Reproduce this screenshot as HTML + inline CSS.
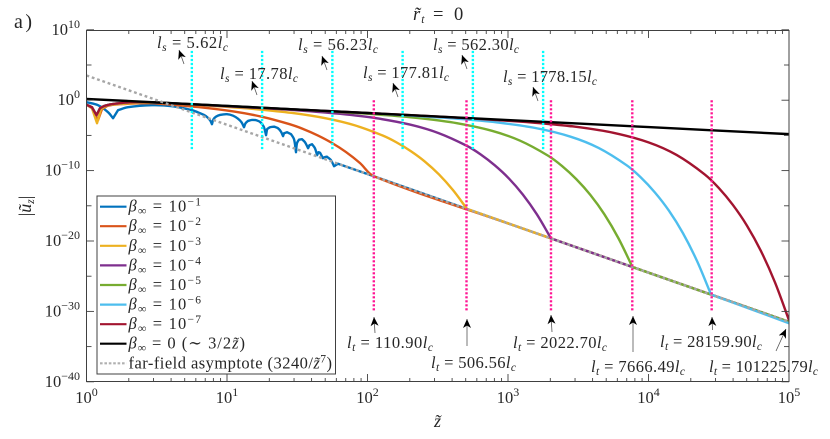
<!DOCTYPE html>
<html lang="en">
<head>
<meta charset="utf-8">
<title>Chart</title>
<style>
html,body{margin:0;padding:0;background:#fff;}
svg{display:block;}
text{font-family:"Liberation Serif","DejaVu Serif",serif;fill:#262626;}
.i{font-style:italic;}
.ann{font-size:16.5px;}
.leg{font-size:16.5px;}
.sub{font-size:11.5px;font-style:italic;}
.sup{font-size:11.5px;}
</style>
</head>
<body>
<svg id="chart" xmlns="http://www.w3.org/2000/svg" width="830" height="439" viewBox="0 0 830 439">
<defs>
<clipPath id="plot-clip"><rect x="86.5" y="30.5" width="702.5" height="351"/></clipPath>
<marker id="head" markerUnits="userSpaceOnUse" markerWidth="12" markerHeight="10" refX="10" refY="4" orient="auto">
<path d="M10,4 L1,0 L3.5,4 L1,8 Z" fill="#000"/>
</marker>
</defs>
<rect x="0" y="0" width="830" height="439" fill="#fff"/>
<g id="curves" clip-path="url(#plot-clip)" fill="none"></g>
<g id="guides" clip-path="url(#plot-clip)" fill="none"></g>
<g id="axes"></g>

<text x="14" y="28" font-size="20" textLength="18">a)</text>
<text x="413" y="20" font-size="18.5"><tspan class="i">r̃</tspan><tspan class="sub" dy="3" dx="1">t</tspan><tspan x="433" dy="-3">=</tspan><tspan x="454">0</tspan></text>
<text transform="rotate(-90 31 206)" x="31" y="206" font-size="18" text-anchor="middle">|<tspan class="i">ũ</tspan><tspan class="sub" dy="3">z</tspan><tspan dy="-3">|</tspan></text>
<text x="434" y="427" font-size="18" class="i">z̃</text>

<g>
<text class="ann" x="157" y="48" textLength="71"><tspan class="i">l</tspan><tspan class="sub" dy="3">s</tspan><tspan dy="-3"> = 5.62</tspan><tspan class="i">l</tspan><tspan class="sub" dy="3">c</tspan></text>
<text class="ann" x="220" y="79" textLength="78"><tspan class="i">l</tspan><tspan class="sub" dy="3">s</tspan><tspan dy="-3"> = 17.78</tspan><tspan class="i">l</tspan><tspan class="sub" dy="3">c</tspan></text>
<text class="ann" x="298" y="50" textLength="80"><tspan class="i">l</tspan><tspan class="sub" dy="3">s</tspan><tspan dy="-3"> = 56.23</tspan><tspan class="i">l</tspan><tspan class="sub" dy="3">c</tspan></text>
<text class="ann" x="363" y="78" textLength="86"><tspan class="i">l</tspan><tspan class="sub" dy="3">s</tspan><tspan dy="-3"> = 177.81</tspan><tspan class="i">l</tspan><tspan class="sub" dy="3">c</tspan></text>
<text class="ann" x="433" y="50" textLength="86"><tspan class="i">l</tspan><tspan class="sub" dy="3">s</tspan><tspan dy="-3"> = 562.30</tspan><tspan class="i">l</tspan><tspan class="sub" dy="3">c</tspan></text>
<text class="ann" x="503" y="82" textLength="94"><tspan class="i">l</tspan><tspan class="sub" dy="3">s</tspan><tspan dy="-3"> = 1778.15</tspan><tspan class="i">l</tspan><tspan class="sub" dy="3">c</tspan></text>
<g stroke="#555" stroke-width="0.8" marker-end="url(#head)">
<line x1="184" y1="64" x2="179" y2="50"/>
<line x1="257" y1="95" x2="252" y2="81"/>
<line x1="327" y1="70" x2="322" y2="56"/>
<line x1="398" y1="97" x2="393" y2="83"/>
<line x1="467" y1="69" x2="462" y2="55"/>
<line x1="538" y1="101" x2="533" y2="87"/>
</g>
</g>

<g>
<text class="ann" x="347" y="348" textLength="86"><tspan class="i">l</tspan><tspan class="sub" dy="3">t</tspan><tspan dy="-3"> = 110.90</tspan><tspan class="i">l</tspan><tspan class="sub" dy="3">c</tspan></text>
<text class="ann" x="431" y="368" textLength="85"><tspan class="i">l</tspan><tspan class="sub" dy="3">t</tspan><tspan dy="-3"> = 506.56</tspan><tspan class="i">l</tspan><tspan class="sub" dy="3">c</tspan></text>
<text class="ann" x="513" y="348" textLength="94"><tspan class="i">l</tspan><tspan class="sub" dy="3">t</tspan><tspan dy="-3"> = 2022.70</tspan><tspan class="i">l</tspan><tspan class="sub" dy="3">c</tspan></text>
<text class="ann" x="591" y="372" textLength="94"><tspan class="i">l</tspan><tspan class="sub" dy="3">t</tspan><tspan dy="-3"> = 7666.49</tspan><tspan class="i">l</tspan><tspan class="sub" dy="3">c</tspan></text>
<text class="ann" x="660" y="347" textLength="102"><tspan class="i">l</tspan><tspan class="sub" dy="3">t</tspan><tspan dy="-3"> = 28159.90</tspan><tspan class="i">l</tspan><tspan class="sub" dy="3">c</tspan></text>
<text class="ann" x="709" y="372" textLength="109"><tspan class="i">l</tspan><tspan class="sub" dy="3">t</tspan><tspan dy="-3"> = 101225.79</tspan><tspan class="i">l</tspan><tspan class="sub" dy="3">c</tspan></text>
<g stroke="#555" stroke-width="0.8" marker-end="url(#head)">
<line x1="375" y1="333" x2="374" y2="317"/>
<line x1="467" y1="346" x2="467" y2="319"/>
<line x1="552" y1="332" x2="551" y2="315"/>
<line x1="633" y1="352" x2="633" y2="316"/>
<line x1="712.5" y1="330" x2="712" y2="317"/>
<line x1="776" y1="351" x2="786" y2="329"/>
</g>
</g>

<g>
<rect x="97" y="196" width="238.5" height="178" fill="#fff" stroke="#404040" stroke-width="1"/>
<g stroke-width="2.2">
<line x1="100" x2="126.5" y1="206.7" y2="206.7" stroke="#0072BD"/>
<line x1="100" x2="126.5" y1="226.2" y2="226.2" stroke="#D95319"/>
<line x1="100" x2="126.5" y1="245.8" y2="245.8" stroke="#EDB120"/>
<line x1="100" x2="126.5" y1="265.4" y2="265.4" stroke="#7E2F8E"/>
<line x1="100" x2="126.5" y1="285" y2="285" stroke="#77AC30"/>
<line x1="100" x2="126.5" y1="304.6" y2="304.6" stroke="#4DBEEE"/>
<line x1="100" x2="126.5" y1="324.2" y2="324.2" stroke="#A2142F"/>
<line x1="100" x2="126.5" y1="343.7" y2="343.7" stroke="#000"/>
<line x1="100" x2="126.5" y1="363.3" y2="363.3" stroke="#b0b0b0" stroke-dasharray="2.6 1.8"/>
</g>
<text class="leg" x="128.5" y="211.7" textLength="72.5"><tspan class="i">β</tspan><tspan class="sub" dy="3">∞</tspan><tspan dy="-3"> = 10</tspan><tspan class="sup" dy="-6">−1</tspan></text>
<text class="leg" x="128.5" y="231.2" textLength="72.5"><tspan class="i">β</tspan><tspan class="sub" dy="3">∞</tspan><tspan dy="-3"> = 10</tspan><tspan class="sup" dy="-6">−2</tspan></text>
<text class="leg" x="128.5" y="250.8" textLength="72.5"><tspan class="i">β</tspan><tspan class="sub" dy="3">∞</tspan><tspan dy="-3"> = 10</tspan><tspan class="sup" dy="-6">−3</tspan></text>
<text class="leg" x="128.5" y="270.4" textLength="72.5"><tspan class="i">β</tspan><tspan class="sub" dy="3">∞</tspan><tspan dy="-3"> = 10</tspan><tspan class="sup" dy="-6">−4</tspan></text>
<text class="leg" x="128.5" y="290" textLength="72.5"><tspan class="i">β</tspan><tspan class="sub" dy="3">∞</tspan><tspan dy="-3"> = 10</tspan><tspan class="sup" dy="-6">−5</tspan></text>
<text class="leg" x="128.5" y="309.6" textLength="72.5"><tspan class="i">β</tspan><tspan class="sub" dy="3">∞</tspan><tspan dy="-3"> = 10</tspan><tspan class="sup" dy="-6">−6</tspan></text>
<text class="leg" x="128.5" y="329.2" textLength="72.5"><tspan class="i">β</tspan><tspan class="sub" dy="3">∞</tspan><tspan dy="-3"> = 10</tspan><tspan class="sup" dy="-6">−7</tspan></text>
<text class="leg" x="128.5" y="348.7" textLength="116.5"><tspan class="i">β</tspan><tspan class="sub" dy="3">∞</tspan><tspan dy="-3"> = 0 (∼ 3/2</tspan><tspan class="i">z̃</tspan>)</text>
<text class="leg" x="128.5" y="368.3" textLength="203.5">far-field asymptote (3240/<tspan class="i">z̃</tspan><tspan class="sup" dy="-6">7</tspan><tspan dy="6">)</tspan></text>
</g>

<script>
// Tick labels (decade exponents)
const xTickExponents = [0, 1, 2, 3, 4, 5];
const yTickExponents = [10, 0, -10, -20, -30, -40];
const yMinorExponents = [5, -5, -15, -25, -35];
const xMinorFactors = [2, 3, 4, 5, 6, 7, 8, 9];

// Length scales marked by dotted guides
const shearLengths = [5.62, 17.78, 56.23, 177.81, 562.30, 1778.15];
const transitionLengths = [110.90, 506.56, 2022.70, 7666.49, 28159.90, 101225.79];

// Shared near-field samples (log10 z, log10 |u|)
const nearLogZ = [0, 0.039, 0.071, 0.096, 0.132, 0.203, 0.31, 0.523];
const nearLogU = [-0.64, -1.0, -2.13, -1.14, -0.78, -0.5, -0.3, -0.36];

// Series (log10 z, log10 |u|)
const beta1LogZ = [0, 0.082, 0.153, 0.189, 0.224, 0.295, 0.466, 0.609, 0.751, 0.808, 0.851, 0.879, 0.893, 0.904, 0.922, 0.95, 1.0, 1.043, 1.078, 1.103, 1.121, 1.132, 1.149, 1.178, 1.214, 1.242, 1.263, 1.278, 1.285, 1.306, 1.335, 1.363, 1.384, 1.399, 1.406, 1.427, 1.456, 1.477, 1.491, 1.498, 1.512, 1.534, 1.555, 1.577, 1.587, 1.605, 1.626, 1.641, 1.651, 1.662, 1.683, 1.694, 1.712, 1.74, 1.762, 1.79, 3, 5];
const beta1LogU = [-0.28, -0.71, -1.7, -2.56, -1.42, -0.99, -0.71, -0.85, -1.42, -1.85, -2.27, -2.84, -3.41, -2.7, -2.34, -2.1, -1.99, -2.2, -2.63, -3.13, -3.84, -3.27, -2.95, -2.81, -2.88, -3.2, -3.84, -4.97, -4.12, -3.84, -3.76, -3.98, -4.47, -5.11, -4.69, -4.55, -4.83, -5.54, -7.39, -6.11, -5.61, -5.54, -5.97, -6.82, -6.39, -6.25, -6.82, -7.81, -7.39, -7.46, -8.24, -8.1, -8.03, -8.52, -9.38, -9.02, -17.49, -31.49];

const beta2LogZ = [0, 0.039, 0.082, 0.11, 0.153, 0.238, 0.452, 0.546, 0.796, 1.046, 1.246, 1.446, 1.546, 1.646, 1.746, 1.846, 1.946, 2.046, 3, 5];
const beta2LogU = [-0.64, -1.14, -2.84, -1.28, -0.78, -0.57, -0.43, -0.54, -0.98, -1.6, -2.34, -3.41, -4.12, -5.0, -6.06, -7.35, -8.92, -10.81, -17.49, -31.49];

const beta3LogZ = [0, 0.039, 0.075, 0.103, 0.153, 0.452, 0.708, 0.958, 1.208, 1.458, 1.708, 1.908, 2.108, 2.208, 2.308, 2.408, 2.508, 2.608, 2.708, 4, 5];
const beta3LogU = [-0.64, -1.14, -3.27, -1.28, -0.71, -0.36, -0.58, -0.89, -1.28, -1.8, -2.59, -3.56, -5.02, -6.01, -7.23, -8.71, -10.53, -12.76, -15.44, -24.49, -31.49];

const beta4LogZ = nearLogZ.concat([1.306, 1.556, 1.806, 2.056, 2.306, 2.506, 2.706, 2.806, 2.906, 3.006, 3.106, 3.206, 3.306, 4, 5]);
const beta4LogU = nearLogU.concat([-1.19, -1.52, -1.94, -2.54, -3.48, -4.67, -6.47, -7.71, -9.25, -11.11, -13.41, -16.23, -19.63, -24.49, -31.49]);

const beta5LogZ = nearLogZ.concat([1.5, 1.886, 2.136, 2.386, 2.636, 2.886, 3.086, 3.286, 3.386, 3.486, 3.586, 3.686, 3.786, 3.886, 4.5, 5]);
const beta5LogU = nearLogU.concat([-1.33, -1.79, -2.13, -2.59, -3.26, -4.35, -5.75, -7.89, -9.37, -11.21, -13.45, -16.21, -19.61, -23.7, -28, -31.49]);

const beta6LogZ = nearLogZ.concat([2.0, 2.445, 2.695, 2.945, 3.195, 3.445, 3.645, 3.845, 3.945, 4.045, 4.145, 4.245, 4.345, 4.445, 5]);
const beta6LogU = nearLogU.concat([-1.83, -2.36, -2.72, -3.21, -3.95, -5.18, -6.78, -9.25, -10.96, -13.09, -15.68, -18.88, -22.83, -27.6, -31.68]);

const beta7LogZ = nearLogZ.concat([2.5, 3.0, 3.25, 3.5, 3.75, 4.0, 4.2, 4.4, 4.5, 4.6, 4.7, 4.8, 4.9, 5]);
const beta7LogU = nearLogU.concat([-2.33, -2.92, -3.3, -3.82, -4.63, -5.99, -7.78, -10.54, -12.46, -14.86, -17.79, -21.41, -25.87, -31.25]);

const stokesLogZ = [0, 1, 2, 3, 4, 5];
const stokesLogU = [0.18, -0.82, -1.82, -2.82, -3.82, -4.82];

const farFieldLogZ = [0, 1, 2, 3, 4, 5];
const farFieldLogU = [3.51, -3.49, -10.49, -17.49, -24.49, -31.49];

// Axis functions
const X0 = 86.5, X_PER_DECADE = 140.5;
const Y0 = 100.2, Y_PER_DECADE = 7.04;
function xScale(logZ) { return X0 + X_PER_DECADE * logZ; }
function yScale(logU) { return Y0 - Y_PER_DECADE * logU; }

const NS = 'http://www.w3.org/2000/svg';
function create(tag, parent, attrs) {
  const el = document.createElementNS(NS, tag);
  for (const k in attrs) el.setAttribute(k, attrs[k]);
  parent.appendChild(el);
  return el;
}

// Smooth path through points, keeping sharp corners at cusps and kinks
function curvePath(logZ, logU) {
  const p = logZ.map((z, i) => [xScale(z), yScale(logU[i])]);
  const unit = (a, b) => {
    const dx = b[0] - a[0], dy = b[1] - a[1], n = Math.hypot(dx, dy) || 1;
    return [dx / n, dy / n];
  };
  const tanIn = [], tanOut = [];
  for (let i = 0; i < p.length; i++) {
    if (i === 0) { tanIn[i] = tanOut[i] = unit(p[0], p[1]); continue; }
    if (i === p.length - 1) { tanIn[i] = tanOut[i] = unit(p[i - 1], p[i]); continue; }
    const a = unit(p[i - 1], p[i]), b = unit(p[i], p[i + 1]);
    if (a[0] * b[0] + a[1] * b[1] < 0.88) { tanIn[i] = a; tanOut[i] = b; }
    else { tanIn[i] = tanOut[i] = unit(p[i - 1], p[i + 1]); }
  }
  let d = 'M' + p[0][0].toFixed(2) + ',' + p[0][1].toFixed(2);
  for (let i = 0; i < p.length - 1; i++) {
    const len = Math.hypot(p[i + 1][0] - p[i][0], p[i + 1][1] - p[i][1]) / 3;
    d += 'C' + (p[i][0] + tanOut[i][0] * len).toFixed(2) + ',' + (p[i][1] + tanOut[i][1] * len).toFixed(2) +
         ' ' + (p[i + 1][0] - tanIn[i + 1][0] * len).toFixed(2) + ',' + (p[i + 1][1] - tanIn[i + 1][1] * len).toFixed(2) +
         ' ' + p[i + 1][0].toFixed(2) + ',' + p[i + 1][1].toFixed(2);
  }
  return d;
}

const curves = document.getElementById('curves');
const guides = document.getElementById('guides');
const axes = document.getElementById('axes');

function drawCurve(name, logZ, logU, color, dash) {
  const el = create('path', curves, {
    d: curvePath(logZ, logU), stroke: color, 'stroke-width': 2.4, 'stroke-linejoin': 'round'
  });
  if (dash) el.setAttribute('stroke-dasharray', dash);
  
  
}

drawCurve('curve-beta-1e-1', beta1LogZ, beta1LogU, '#0072BD');
drawCurve('curve-beta-1e-2', beta2LogZ, beta2LogU, '#D95319');
drawCurve('curve-beta-1e-3', beta3LogZ, beta3LogU, '#EDB120');
drawCurve('curve-beta-1e-4', beta4LogZ, beta4LogU, '#7E2F8E');
drawCurve('curve-beta-1e-5', beta5LogZ, beta5LogU, '#77AC30');
drawCurve('curve-beta-1e-6', beta6LogZ, beta6LogU, '#4DBEEE');
drawCurve('curve-beta-1e-7', beta7LogZ, beta7LogU, '#A2142F');
drawCurve('curve-beta-0', stokesLogZ, stokesLogU, '#000000');
drawCurve('curve-far-field-asymptote', farFieldLogZ, farFieldLogU, '#a6a6a6', '2.8 2.8');

shearLengths.forEach(function (value) {
  const x = xScale(Math.log10(value));
  const el = create('line', guides, {
    x1: x, x2: x, y1: yScale(7), y2: yScale(-7),
    stroke: '#00FFFF', 'stroke-width': 2.4, 'stroke-dasharray': '2.2 1.8'
  });
  
  
});

transitionLengths.forEach(function (value) {
  const x = xScale(Math.log10(value));
  const el = create('line', guides, {
    x1: x, x2: x, y1: yScale(0), y2: yScale(-30),
    stroke: '#FF1493', 'stroke-width': 2.4, 'stroke-dasharray': '2.2 1.8'
  });
  
  
});

// Axes box
const xRight = xScale(5), yTop = 30.5, yBottom = 381.5;
const box = create('rect', axes, {
  x: X0, y: yTop, width: xRight - X0, height: yBottom - yTop,
  fill: 'none', stroke: '#404040', 'stroke-width': 1
});



function tick(x1, y1, x2, y2) {
  const el = create('line', axes, { x1: x1, y1: y1, x2: x2, y2: y2, stroke: '#404040', 'stroke-width': 0.9 });
  
  
}

function powerLabel(x, y, exponent, anchor, name) {
  const t = create('text', axes, { x: x, y: y, 'text-anchor': anchor, 'font-size': 16.5 });
  const base = create('tspan', t, {});
  base.textContent = '10';
  const sup = create('tspan', t, { dy: -7, 'font-size': 12 });
  sup.textContent = String(exponent).replace('-', '\u2212');
  
  
}

xTickExponents.forEach(function (e) {
  const x = xScale(e);
  tick(x, yBottom, x, yBottom - 7.5);
  tick(x, yTop, x, yTop + 7.5);
  powerLabel(x, 403, e, 'middle', 'x-tick-label');
  if (e < 5) {
    xMinorFactors.forEach(function (m) {
      const xm = xScale(e + Math.log10(m));
      tick(xm, yBottom, xm, yBottom - 3.5);
      tick(xm, yTop, xm, yTop + 3.5);
    });
  }
});

yTickExponents.forEach(function (e) {
  const y = yScale(e);
  tick(X0, y, X0 + 7.5, y);
  tick(xRight, y, xRight - 7.5, y);
  powerLabel(80, y + 5, e, 'end', 'y-tick-label');
});

yMinorExponents.forEach(function (e) {
  const y = yScale(e);
  tick(X0, y, X0 + 5, y);
  tick(xRight, y, xRight - 5, y);
});
</script>
</svg>
</body>
</html>
